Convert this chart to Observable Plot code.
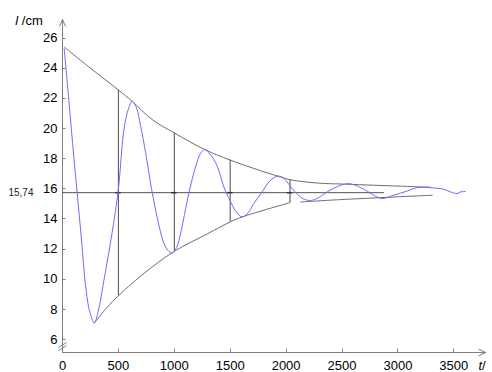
<!DOCTYPE html>
<html><head><meta charset="utf-8">
<script src="https://cdn.jsdelivr.net/npm/d3@7"></script>
<script src="https://cdn.jsdelivr.net/npm/@observablehq/plot@0.6"></script>
<style>
html,body{margin:0;padding:0;background:#fff}
#chart svg{display:block;font-family:"Liberation Sans",Arial,sans-serif}
</style>
</head><body><div id="chart"></div>
<script>
// ---- data ----
const yTicks = [6, 8, 10, 12, 14, 16, 18, 20, 22, 24, 26];
const xTicks = [0, 500, 1000, 1500, 2000, 2500, 3000, 3500];
const yTitle = "l";
const yUnit = " /cm";
const xTitle = "t";
const xUnit = "/";

// oscillating length (blue)
const oscT = [15, 60, 100, 131, 170, 206, 245, 285, 320, 370, 444, 500, 549, 590, 623, 660, 698, 757, 796, 862, 906, 945, 981, 1020, 1055, 1130, 1190, 1235, 1273, 1320, 1384, 1443, 1500, 1550, 1605, 1660, 1711, 1786, 1846, 1920, 1970, 2009, 2054, 2093, 2150, 2218, 2290, 2367, 2487, 2555, 2600, 2700, 2800, 2859, 2963, 3083, 3157, 3240, 3321, 3410, 3470, 3530, 3560, 3605];
const oscV = [25.3, 21.6, 18.2, 15.74, 12.6, 9.6, 7.8, 7.1, 7.9, 9.9, 13.1, 16.0, 19.9, 21.3, 21.8, 21.4, 20.2, 17.8, 16.0, 13.6, 12.4, 11.9, 11.73, 12.1, 13.0, 15.7, 17.45, 18.35, 18.6, 18.3, 17.5, 16.12, 15.2, 14.5, 14.13, 14.4, 15.02, 15.79, 16.45, 16.83, 16.75, 16.45, 16.0, 15.7, 15.35, 15.22, 15.4, 15.79, 16.23, 16.34, 16.28, 15.95, 15.5, 15.35, 15.57, 15.85, 16.05, 16.1, 16.05, 15.97, 15.79, 15.68, 15.79, 15.81];

// upper envelope
const upperT = [15, 250, 500, 623, 800, 1000, 1273, 1500, 1771, 1920, 2035, 2278, 2547, 3023, 3290];
const upperV = [25.4, 24.0, 22.55, 21.8, 20.6, 19.7, 18.6, 17.9, 17.2, 16.85, 16.6, 16.38, 16.3, 16.17, 16.1];

// lower envelope (two pieces)
const lower1T = [285, 400, 500, 698, 1000, 1294, 1500, 1607, 2035];
const lower1V = [7.1, 8.15, 8.9, 10.2, 11.85, 13.0, 13.8, 14.13, 15.08];
const lower2T = [2130, 2487, 3307];
const lower2V = [15.12, 15.28, 15.57];

// equilibrium line
const center = 15.74;
const centerLabel = "15,74";
const centerEnd = 2880;

// vertical guides
const guideT = [500, 1000, 1500, 2035];
const guideLow = [8.9, 11.85, 13.8, 15.08];
const guideHigh = [22.55, 19.7, 17.9, 16.6];

// ---- build tables ----
const zip = (ts, vs) => ts.map((t, i) => ({t, v: vs[i]}));
const osc = zip(oscT, oscV);
const upper = zip(upperT, upperV);
const lower1 = zip(lower1T, lower1V);
const lower2 = zip(lower2T, lower2V);
const guides = guideT.map((t, i) => ({t, lo: guideLow[i], hi: guideHigh[i]}));

const AXIS = "#808080";
const ENV = "#6e6e6e";
const BLUE = "#6c6cff";
const FONT = "Liberation Sans, Arial, sans-serif";

function decorations(index, scales, values, dims) {
  const {x, y} = scales;
  const L = dims.marginLeft, B = dims.height - dims.marginBottom, T = dims.marginTop, R = dims.width - dims.marginRight;
  const g = d3.create("svg:g");
  const lines = g.append("g").attr("fill", "none").attr("stroke", AXIS).attr("transform", "translate(0.5,0.5)");
  for (const v of yTicks) lines.append("line").attr("x1", L).attr("x2", L + 3).attr("y1", Math.round(y(v))).attr("y2", Math.round(y(v)));
  for (const t of xTicks) if (t > 0) lines.append("line").attr("x1", Math.round(x(t))).attr("x2", Math.round(x(t))).attr("y1", B).attr("y2", B - 4);
  // arrows
  lines.append("path").attr("d", `M${L - 3},${T + 7}L${L},${T}L${L + 3},${T + 7}`);
  lines.append("path").attr("d", `M${R - 7},${B - 3.5}L${R},${B}L${R - 7},${B + 3.5}`);
  // axis break
  lines.append("path").attr("d", `M${L - 4},${B - 5}L${L + 4},${B - 10}M${L - 4},${B - 2}L${L + 4},${B - 7}`);
  // titles
  const t1 = g.append("text").attr("x", L - 33).attr("y", T + 6).attr("font-size", 13).attr("fill", "#000").attr("font-family", FONT);
  t1.append("tspan").attr("font-style", "italic").text(yTitle);
  t1.append("tspan").text(yUnit);
  const t2 = g.append("text").attr("x", R - 3).attr("y", B + 18).attr("font-size", 13).attr("fill", "#000").attr("font-family", FONT);
  t2.append("tspan").attr("font-style", "italic").text(xTitle);
  t2.append("tspan").text(xUnit);
  return g.node();
}

const chart = Plot.plot({
  width: 492,
  height: 372,
  marginLeft: 62,
  marginRight: 7,
  marginTop: 19,
  marginBottom: 20,
  style: {fontFamily: FONT, background: "#fff", color: "#000"},
  x: {domain: [0, 3500], range: [62, 453.3]},
  y: {domain: [6, 26], range: [339, 37.5]},
  marks: [
    Plot.frame({anchor: "left", stroke: AXIS}),
    Plot.frame({anchor: "bottom", stroke: AXIS}),
    Plot.axisY(yTicks, {tickSize: 0, tickPadding: 5, fontSize: 13, label: null, fill: "#000", tickFormat: d => String(d)}),
    Plot.axisX(xTicks, {tickSize: 0, tickPadding: 8, fontSize: 13, label: null, fill: "#000", tickFormat: d => String(d)}),
    Plot.ruleY([center], {x1: 0, x2: centerEnd, stroke: "#555"}),
    Plot.text([centerLabel], {y: () => center, frameAnchor: "left", dx: -29, textAnchor: "end", fontSize: 10, fill: "#222", text: d => d}),
    Plot.ruleX(guides, {x: "t", y1: "lo", y2: "hi", stroke: "#4a4a4a"}),
    Plot.ruleY(guides, {y: () => center, x1: d => d.t - 25, x2: d => d.t + 25, stroke: "#333", strokeWidth: 1.5}),
    Plot.line(upper, {x: "t", y: "v", stroke: ENV, strokeWidth: 1, curve: "catmull-rom"}),
    Plot.line(lower1, {x: "t", y: "v", stroke: ENV, strokeWidth: 1, curve: "catmull-rom"}),
    Plot.line(lower2, {x: "t", y: "v", stroke: ENV, strokeWidth: 1, curve: "catmull-rom"}),
    Plot.line(osc, {x: "t", y: "v", stroke: BLUE, strokeWidth: 1, curve: "catmull-rom"}),
    decorations
  ]
});
document.getElementById("chart").appendChild(chart);
</script>
</body></html>
